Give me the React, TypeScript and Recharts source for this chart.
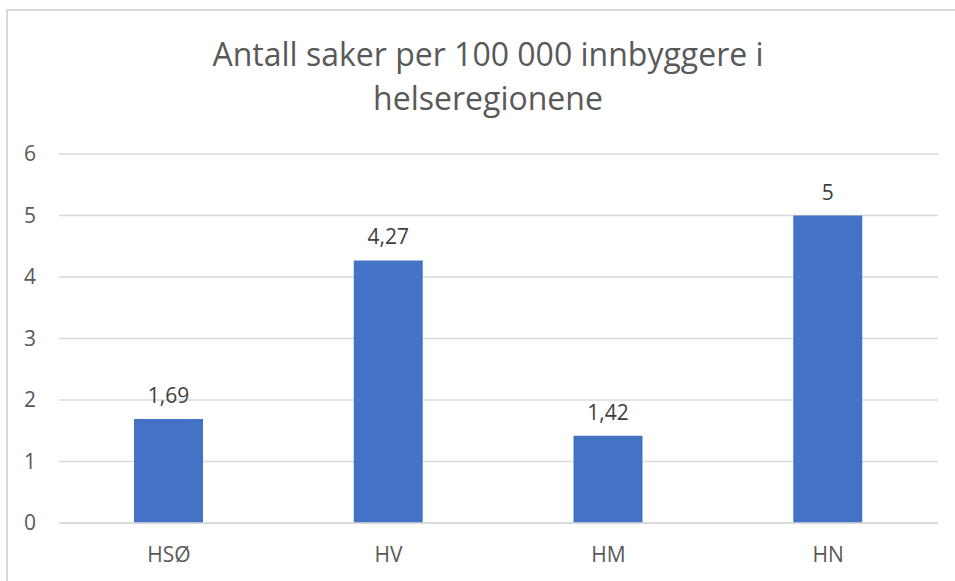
import React from 'react';
import { BarChart, Bar, XAxis, YAxis, CartesianGrid, LabelList } from 'recharts';

const regions = ['HSØ', 'HV', 'HM', 'HN'];
const casesPer100k = [1.69, 4.27, 1.42, 5];
const yTicks = [0, 1, 2, 3, 4, 5, 6];
const titleLines = ['Antall saker per 100 000 innbyggere i', 'helseregionene'];

const data = regions.map((region, i) => ({ region, value: casesPer100k[i] }));

const font = '"Open Sans", sans-serif';

const App: React.FC = () => {
  return (
    <div style={{ position: 'absolute', left: 0, top: 0, width: 955, height: 581, overflow: 'hidden', background: '#fff', fontFamily: font }}>
      <div style={{ position: 'absolute', left: 6, top: 9, width: 1000, height: 700, border: '2px solid #d9d9d9', boxSizing: 'border-box' }} />
      <svg width={955} height={581} style={{ position: 'absolute', left: 0, top: 0 }}>
        {titleLines.map((line, i) => (
          <text key={i} x={488} y={66 + i * 44} textAnchor="middle" fontSize={32} fill="#595959" fontFamily={font}>
            {line}
          </text>
        ))}
      </svg>
      <div style={{ position: 'absolute', left: 0, top: 0 }}>
        <BarChart width={955} height={581} data={data} margin={{ top: 154, right: 17, bottom: 28, left: 19 }}>
          <CartesianGrid vertical={false} stroke="#d9d9d9" strokeWidth={1.5} />
          <XAxis
            dataKey="region"
            axisLine={{ stroke: '#d9d9d9', strokeWidth: 1.5 }}
            tickLine={false}
            tickMargin={18}
            height={30}
            tick={{ fill: '#595959', fontSize: 21, fontFamily: font }}
          />
          <YAxis
            domain={[0, 6]}
            ticks={yTicks}
            width={40}
            axisLine={false}
            tickLine={false}
            tickMargin={17}
            tick={{ fill: '#595959', fontSize: 21, fontFamily: font }}
          />
          <Bar dataKey="value" fill="#4472C4" barSize={69} isAnimationActive={false}>
            <LabelList
              dataKey="value"
              position="top"
              offset={16}
              fill="#404040"
              fontSize={21}
              fontFamily={font}
              formatter={(v: any) => String(v).replace('.', ',')}
            />
          </Bar>
        </BarChart>
      </div>
    </div>
  );
};

export default App;
